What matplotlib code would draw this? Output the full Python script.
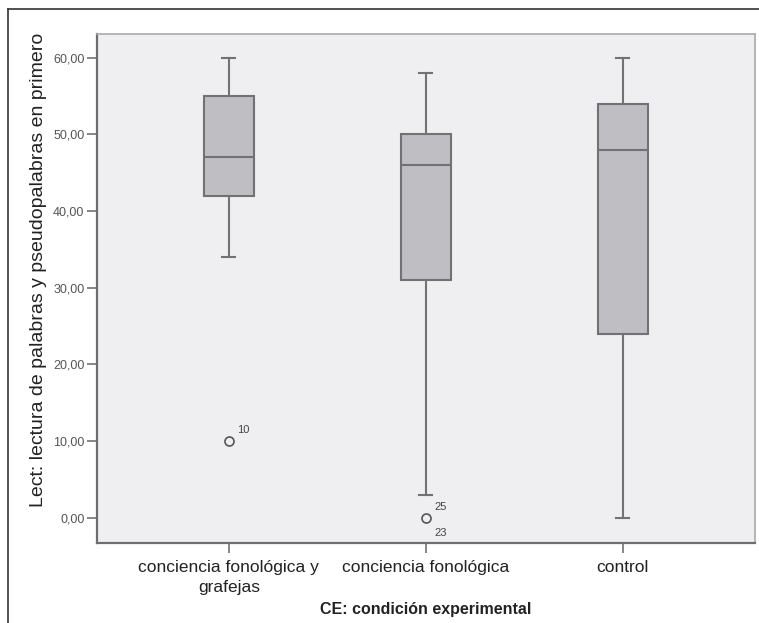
import numpy as np
import matplotlib.pyplot as plt
from matplotlib.lines import Line2D

plt.rcParams['font.family'] = ['Liberation Sans', 'DejaVu Sans']

# values
groups = ['conciencia fonológica y\ngrafejas', 'conciencia fonológica', 'control']
whisker_low = [34, 3, 0]
q1 = [42, 31, 24]
median = [47, 46, 48]
q3 = [55, 50, 54]
whisker_high = [60, 58, 60]
outliers = [[10], [0], []]
# case labels next to the outliers: (text, dy in points)
outlier_ids = [[('10', 8)], [('25', 8), ('23', -11)], []]
yticks = [0, 10, 20, 30, 40, 50, 60]

stats = []
for i, g in enumerate(groups):
    stats.append(dict(label=g, whislo=whisker_low[i], q1=q1[i], med=median[i],
                      q3=q3[i], whishi=whisker_high[i], fliers=outliers[i]))

line_col = '#727274'
fig = plt.figure(figsize=(7.59, 6.23), dpi=100)
ax = fig.add_axes([0.1278, 0.1284, 0.8669, 0.817])
ax.set_facecolor('#efeff2')

positions = [1, 2, 3]
ax.bxp(stats, positions=positions, widths=0.254, patch_artist=True,
       capwidths=0.066,
       boxprops=dict(facecolor='#bfbfc3', edgecolor=line_col, linewidth=1.5),
       medianprops=dict(color=line_col, linewidth=1.5),
       whiskerprops=dict(color=line_col, linewidth=1.5),
       capprops=dict(color=line_col, linewidth=1.5),
       flierprops=dict(marker='o', markerfacecolor='none', markeredgecolor='#555555',
                       markersize=6.5, markeredgewidth=1.2))

for i, ids in enumerate(outlier_ids):
    for lab, dy in ids:
        ax.annotate(lab, (positions[i], outliers[i][0]), xytext=(6, dy),
                    textcoords='offset points', fontsize=8, color='#444444',
                    va='center', ha='left')

ax.set_xlim(0.331, 3.672)
ax.set_ylim(-3.3, 63.1)
ax.set_yticks(yticks)
ax.set_yticklabels([f'{v:.2f}'.replace('.', ',') for v in yticks], fontsize=9, color='#555555')
ax.set_xticks(positions)
ax.set_xticklabels(groups, fontsize=12.5, color='#222222', linespacing=1.45)
ax.tick_params(axis='both', length=7, width=1.2, color=line_col)
ax.tick_params(axis='y', pad=2)
ax.tick_params(axis='x', pad=5)

for side in ['left', 'bottom']:
    ax.spines[side].set_color('#6e6e70')
    ax.spines[side].set_linewidth(1.6)
for side in ['top', 'right']:
    ax.spines[side].set_color('#aaaaac')
    ax.spines[side].set_linewidth(1.2)

ax.set_ylabel('Lect: lectura de palabras y pseudopalabras en primero', fontsize=14,
              color='#222222')
ax.yaxis.set_label_coords(-0.076, 0.536)
ax.set_xlabel('CE: condición experimental', fontsize=11.5, fontweight='bold',
              color='#222222', labelpad=5)

# outer frame (left and top edges)
fig.add_artist(Line2D([8 / 759, 8 / 759], [0, 1 - 9 / 623], color='#333333', linewidth=1.2))
fig.add_artist(Line2D([8 / 759, 1], [1 - 9 / 623, 1 - 9 / 623], color='#333333', linewidth=1.2))

fig.savefig('out.png', dpi=100)
